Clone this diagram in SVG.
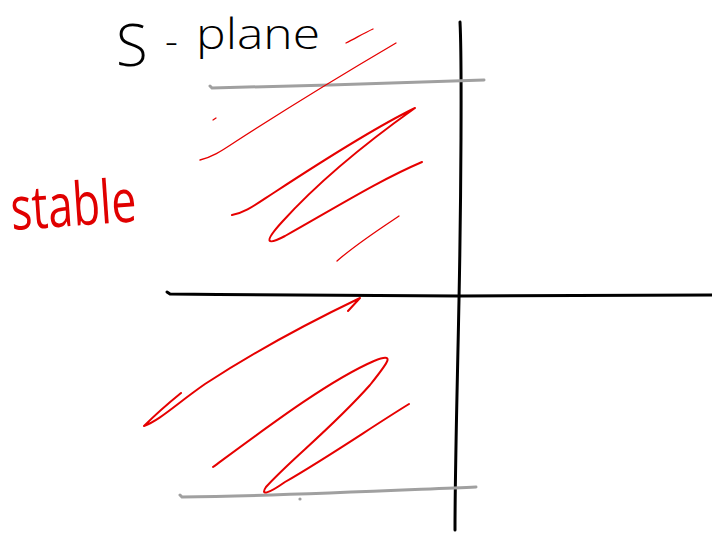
<svg xmlns="http://www.w3.org/2000/svg" width="712" height="534" viewBox="0 0 712 534">
<style>
.ax{fill:none;stroke:#000;stroke-width:3;stroke-linecap:round;stroke-linejoin:round}
.gr{fill:none;stroke:#a0a0a0;stroke-width:3;stroke-linecap:round}
.rd{fill:none;stroke:#e60000;stroke-width:1.3;stroke-linecap:round;stroke-linejoin:round}
.rdb{fill:none;stroke:#e60000;stroke-width:2;stroke-linecap:round;stroke-linejoin:round}
.hand{font-family:"Open Sans","Liberation Sans",sans-serif;font-weight:300}
</style>
<rect width="712" height="534" fill="#fff"/>
<g id="title">
<text class="hand" x="116" y="66" font-size="58" fill="#000">S</text>
<text class="hand" x="165" y="55" font-size="40" fill="#000">-</text>
<text class="hand" x="196" y="49" font-size="42" fill="#000" textLength="124" lengthAdjust="spacingAndGlyphs">plane</text>
</g>
<g id="stable-label">
<text class="hand" x="10" y="226" font-size="60" fill="#e00000" transform="rotate(-4 70 200)" style="font-weight:400" textLength="126" lengthAdjust="spacingAndGlyphs">stable</text>
</g>
<g id="connectors">
<path id="imag-axis" class="ax" d="M460 22 C462 60 461 200 459 300 C457 400 455 470 455 530"/>
<path id="real-axis" class="ax" d="M167 292 L170 294 C280 295 400 296 460 296 L712 295"/>
<path id="top-limit" class="gr" d="M210 86 L212 88 C300 86 400 83 484 80"/>
<path id="bottom-limit" class="gr" d="M180 495 L182 497 C280 496 400 490 476 487"/>
<circle cx="300" cy="499" r="1.6" fill="#a0a0a0"/>
<path class="rd" d="M346 43 C356 38 364 33 373 29"/>
<path class="rd" d="M200 160 C212 157 220 152 235 142 C300 100 350 70 396 43"/>
<path class="rd" d="M213 120 L216 118"/>
<path class="rdb" d="M232 215 C245 213 255 205 275 192 C330 156 380 125 415 108 C370 140 320 180 282 222 C262 244 268 245 285 236 C340 205 380 180 422 162"/>
<path class="rd" d="M337 261 C355 245 375 232 399 216"/>
<path class="rdb" d="M181 393 C165 406 150 420 144 426 C160 420 175 405 205 384 C260 348 310 322 360 298 L348 311"/>
<path class="rdb" d="M213 467 C270 425 330 380 374 361 C395 353 390 360 370 385 C330 430 290 460 266 487 C260 496 268 494 285 482 C330 456 370 428 409 404"/>
</g>
</svg>
